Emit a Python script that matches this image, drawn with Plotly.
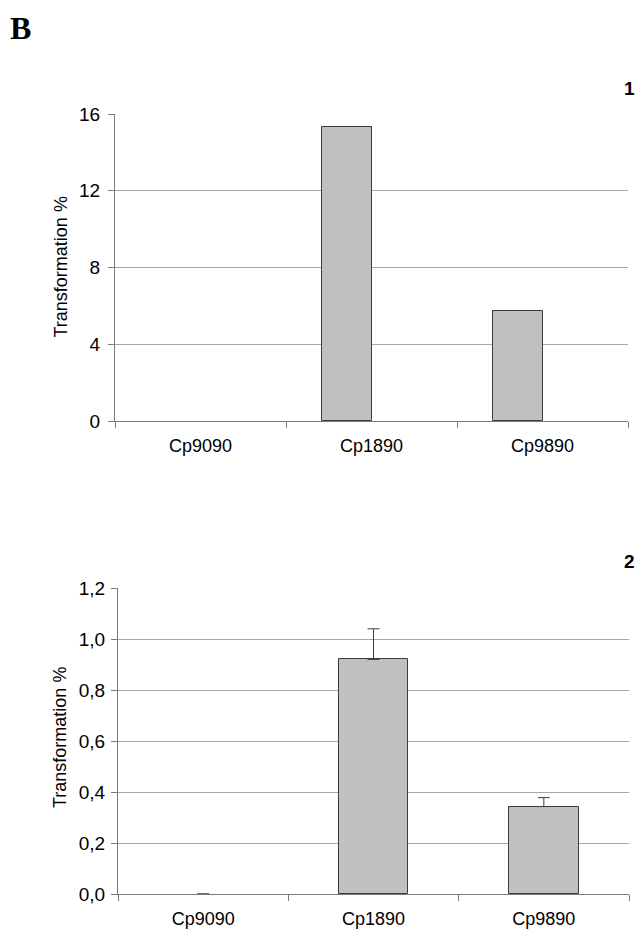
import plotly.graph_objects as go

categories = ["Cp9090", "Cp1890", "Cp9890"]
values_1 = [0, 15.3, 5.72]
values_2 = [0, 0.92, 0.343]
errors_2 = [None, 0.12, 0.035]
yticks_1 = [0, 4, 8, 12, 16]
yticks_2 = [0, 0.2, 0.4, 0.6, 0.8, 1.0, 1.2]

W, H = 639, 931
def px_x(v): return v / W
def px_y(v): return 1 - v / H

font = "Arial, Liberation Sans, sans-serif"
bar_fill = "#c0c0c0"
bar_line = "#3c3c3c"
grid_col = "#a6a6a6"
axis_col = "#7a7a7a"
outline_w = [0, 1, 1]

fig = go.Figure()
fig.add_trace(go.Bar(
    x=categories, y=values_1, xaxis="x", yaxis="y",
    width=0.292, offset=-0.292,
    marker=dict(color=bar_fill, line=dict(color=bar_line, width=outline_w)),
    showlegend=False,
))
fig.add_trace(go.Bar(
    x=categories, y=values_2, xaxis="x2", yaxis="y2",
    width=0.41,
    marker=dict(color=bar_fill, line=dict(color=bar_line, width=outline_w)),
    error_y=dict(type="data", array=errors_2, arrayminus=[0 if e is not None else None for e in errors_2],
                 symmetric=False, color="#3c3c3c", thickness=1, width=6),
    showlegend=False,
))

xaxis_common = dict(
    type="category", showgrid=False, showline=True, linecolor=axis_col, linewidth=1,
    ticks="outside", tickson="boundaries", ticklen=6, tickcolor=axis_col,
    tickfont=dict(family=font, size=18, color="#000"), ticklabelstandoff=8,
    automargin=False, fixedrange=True,
)
yaxis_common = dict(
    showgrid=True, gridcolor=grid_col, gridwidth=1, showline=True, linecolor=axis_col,
    linewidth=1, ticks="outside", ticklen=6, tickcolor=axis_col, zeroline=False,
    tickfont=dict(family=font, size=19, color="#000"), automargin=False,
    fixedrange=True,
)

fig.update_layout(
    width=W, height=H,
    margin=dict(l=0, r=0, t=0, b=0),
    paper_bgcolor="white", plot_bgcolor="white",
    separators=", ",
    bargap=0,
    xaxis=dict(domain=[px_x(115), px_x(628)], anchor="y", **xaxis_common),
    yaxis=dict(domain=[px_y(421), px_y(114)], anchor="x", range=[0, 16],
               tickvals=yticks_1, ticklabelstandoff=4, **yaxis_common),
    xaxis2=dict(domain=[px_x(118), px_x(629)], anchor="y2", **xaxis_common),
    yaxis2=dict(domain=[px_y(894), px_y(588)], anchor="x2", range=[0, 1.2],
                tickvals=yticks_2, tickformat=".1f", ticklabelstandoff=2,
                **yaxis_common),
    annotations=[
        dict(text="<b>B</b>", x=px_x(8), y=px_y(8), xref="paper", yref="paper",
             xanchor="left", yanchor="top", showarrow=False,
             font=dict(family="Liberation Serif, Times New Roman, serif", size=32, color="#000")),
        dict(text="<b>1</b>", x=px_x(637), y=px_y(88), xref="paper", yref="paper",
             xanchor="right", yanchor="middle", showarrow=False,
             font=dict(family=font, size=19, color="#000")),
        dict(text="<b>2</b>", x=px_x(637), y=px_y(561), xref="paper", yref="paper",
             xanchor="right", yanchor="middle", showarrow=False,
             font=dict(family=font, size=19, color="#000")),
        dict(text="Transformation %", x=px_x(60), y=px_y(267.5), xref="paper", yref="paper",
             textangle=-90, xanchor="center", yanchor="middle", showarrow=False,
             font=dict(family=font, size=18, color="#000")),
        dict(text="Transformation %", x=px_x(60), y=px_y(738), xref="paper", yref="paper",
             textangle=-90, xanchor="center", yanchor="middle", showarrow=False,
             font=dict(family=font, size=18, color="#000")),
    ],
)

fig.write_html("out.html", config={"displayModeBar": False},
               post_script="document.body.style.margin='0';document.body.style.padding='0';")
